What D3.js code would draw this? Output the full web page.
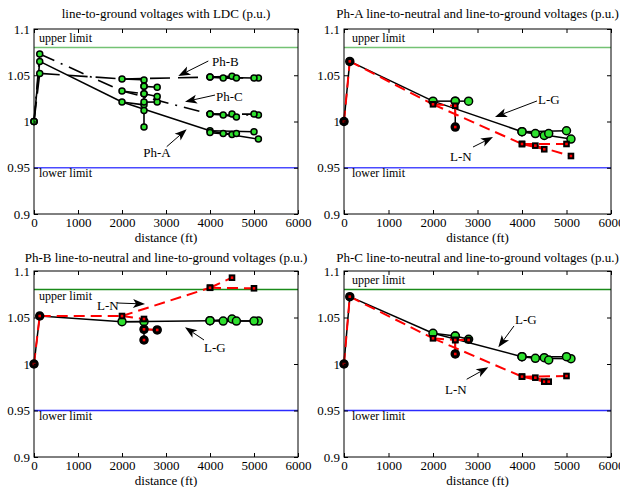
<!DOCTYPE html>
<html>
<head>
<meta charset="utf-8">
<script src="https://cdn.jsdelivr.net/npm/d3@7"></script>
<style>
  body { margin: 0; background: #fff; }
  svg text { font-family: "Liberation Serif", "Times New Roman", "DejaVu Serif", serif; }
</style>
</head>
<body>
<div class="chart"></div>
<script>
// feeder nodes (tree) and their distance from the source
const nodeNames = ["650", "RG60", "632", "633", "634", "645", "646", "671", "692", "675", "684", "611", "652", "680"];
const nodeDist  = [0, 130, 2000, 2500, 2500, 2500, 2800, 4000, 4000, 4500, 4300, 4600, 5100, 5000];
const edges = [["650", "RG60"], ["RG60", "632"], ["632", "633"], ["633", "634"], ["633", "645"], ["645", "646"],
               ["632", "671"], ["671", "692"], ["692", "675"], ["671", "684"], ["684", "611"], ["684", "652"], ["671", "680"]];

const xTicks = [0, 1000, 2000, 3000, 4000, 5000, 6000];
const yTicks = [0.9, 0.95, 1, 1.05, 1.1];
const upperLimit = 1.08, lowerLimit = 0.95;

const titles = [
  "line-to-ground voltages with LDC (p.u.)",
  "Ph-A line-to-neutral and line-to-ground voltages (p.u.)",
  "Ph-B line-to-neutral and line-to-ground voltages (p.u.)",
  "Ph-C line-to-neutral and line-to-ground voltages (p.u.)"
];

// panel 1: line-to-ground with LDC
const ldcA = [1.000, 1.065, 1.021, 1.018, 0.994, 1.021, 1.021, 0.990, 0.988, 0.986, 0.987, 0.987, 0.981, 0.989];
const ldcB = [1.000, 1.052, 1.046, 1.045, 1.038, 1.038, 1.037, 1.048, 1.048, 1.049, 1.047, 1.047, 1.047, 1.047];
const ldcC = [1.000, 1.073, 1.033, 1.030, 1.012, 1.030, 1.027, 1.008, 1.008, 1.008, 1.007, 1.005, 1.007, 1.008];

// panels 2-4: line-to-ground (L-G) and line-to-neutral (L-N)
const aLG = [1.000, 1.065, 1.022, 1.022, 0.994, 1.022, 1.022, 0.989, 0.989, 0.985, 0.987, 0.987, 0.981, 0.990];
const aLN = [1.000, 1.065, 1.0186, 1.017, 0.994, null, null, 0.9757, 0.9757, 0.970, 0.9739, null, 0.9627, 0.9757];
const bLG = [1.000, 1.0516, 1.0455, 1.0455, 1.0258, 1.0373, 1.0366, 1.0466, 1.0466, 1.0484, 1.0462, 1.0462, 1.0462, 1.0462];
const bLN = [1.000, 1.0516, 1.0516, 1.0484, 1.0258, 1.0373, 1.0366, 1.082, 1.082, 1.0928, null, null, null, 1.0814];
const cLG = [1.000, 1.0724, 1.033, 1.0301, 1.0108, 1.0301, 1.0266, 1.0079, 1.0079, 1.0068, 1.0061, 1.0043, 1.0057, 1.0079];
const cLN = [1.000, 1.0724, 1.0276, 1.0258, 1.0108, 1.0258, 1.0258, 0.9864, 0.9864, 0.981, 0.9853, 0.981, null, 0.9871];

// annotations: label, text x, text y, arrow from x, y, arrow to x, y (data units)
const notes1 = [["Ph-B", 4045, 1.0605, 3962, 1.0654, 3280, 1.0492],
                ["Ph-C", 4136, 1.0227, 4114, 1.0286, 3432, 1.0214],
                ["Ph-A", 2484, 0.9611, 3016, 0.9728, 3470, 0.9916]];
const notes2 = [["L-G", 4360, 1.0184, 4337, 1.0222, 3393, 1.0049],
                ["L-N", 2382, 0.9578, 2899, 0.9724, 3348, 0.9832]];
const notes3 = [["L-N", 1432, 1.0581, 1886, 1.0656, 2523, 1.0645],
                ["L-G", 3864, 1.0129, 3864, 1.0258, 3432, 1.0395]];
const notes4 = [["L-G", 3843, 1.043, 3820, 1.0409, 3468, 1.018],
                ["L-N", 2270, 0.9678, 2757, 0.9836, 3243, 0.9965]];

const svg = d3.select(".chart").append("svg")
    .attr("width", 620)
    .attr("height", 487);

const panels = [
  {x: 34,  y: 29,  w: 264, h: 185, titleY: -11, labX: 5, upDy: -5.5, upColor: "#74c274", lowColor: "#4a4aff"},
  {x: 344, y: 29,  w: 267, h: 185, titleY: -11, labX: 8, upDy: -5.5, upColor: "#74c274", lowColor: "#4a4aff"},
  {x: 34,  y: 271, w: 264, h: 186, titleY: -9,  labX: 5, upDy: 10,   upColor: "#1a8a1a", lowColor: "#2b2bff"},
  {x: 344, y: 271, w: 267, h: 186, titleY: -9,  labX: 8, upDy: -5.5, upColor: "#1a8a1a", lowColor: "#2b2bff"}
];

const green = "#2ee02e";
const idx = name => nodeNames.indexOf(name);

function setup(p, i) {
  const g = svg.append("g").attr("transform", `translate(${p.x},${p.y})`);
  const x = d3.scaleLinear().domain([0, 6000]).range([0, p.w]);
  const y = d3.scaleLinear().domain([0.9, 1.1]).range([p.h, 0]);

  g.append("text")
      .attr("x", p.w / 2)
      .attr("y", p.titleY)
      .attr("text-anchor", "middle")
      .attr("font-size", 13)
      .text(titles[i]);

  g.append("text")
      .attr("x", p.w / 2)
      .attr("y", p.h + 28)
      .attr("text-anchor", "middle")
      .attr("font-size", 13)
      .text("distance (ft)");

  [[upperLimit, p.upColor, "upper limit", p.upDy], [lowerLimit, p.lowColor, "lower limit", 9.5]].forEach(l => {
    g.append("line")
        .attr("x1", 0).attr("x2", p.w)
        .attr("y1", y(l[0])).attr("y2", y(l[0]))
        .attr("stroke", l[1])
        .attr("stroke-width", 1.5);
    g.append("text")
        .attr("x", p.labX)
        .attr("y", y(l[0]) + l[3])
        .attr("font-size", 12)
        .text(l[2]);
  });

  return {g, x, y, p};
}

function axes(c) {
  const {g, x, y, p} = c;
  const style = a => a.call(s => s.select(".domain").remove())
      .attr("font-family", null)
      .attr("font-size", 13);

  g.append("g").attr("transform", `translate(0,${p.h})`)
      .call(d3.axisBottom(x).tickValues(xTicks).tickSize(-4).tickPadding(4).tickFormat(d3.format("d")))
      .call(style);
  g.append("g")
      .call(d3.axisTop(x).tickValues(xTicks).tickSize(-4).tickFormat(""))
      .call(style);
  g.append("g")
      .call(d3.axisLeft(y).tickValues(yTicks).tickSize(-4).tickPadding(4).tickFormat(d => String(d)))
      .call(style);
  g.append("g").attr("transform", `translate(${p.w},0)`)
      .call(d3.axisRight(y).tickValues(yTicks).tickSize(-4).tickFormat(""))
      .call(style);

  g.append("rect")
      .attr("width", p.w)
      .attr("height", p.h)
      .attr("fill", "none")
      .attr("stroke", "#000")
      .attr("stroke-width", 1);
}

function segments(vals) {
  return edges
    .map(e => [idx(e[0]), idx(e[1])])
    .filter(e => vals[e[0]] != null && vals[e[1]] != null)
    .map(e => [[nodeDist[e[0]], vals[e[0]]], [nodeDist[e[1]], vals[e[1]]]]);
}

function points(vals) {
  return vals.map((v, k) => ({d: nodeDist[k], v: v, k: k})).filter(o => o.v != null);
}

function drawLines(c, vals, color, width, dash) {
  const line = d3.line().x(d => c.x(d[0])).y(d => c.y(d[1]));
  c.g.append("g").selectAll("path")
    .data(segments(vals))
    .join("path")
      .attr("d", line)
      .attr("fill", "none")
      .attr("stroke", color)
      .attr("stroke-width", width)
      .attr("stroke-dasharray", dash)
      .attr("stroke-linecap", "butt");
}

function drawNotes(c, notes) {
  notes.forEach(n => {
    const x1 = c.x(n[3]), y1 = c.y(n[4]), x2 = c.x(n[5]), y2 = c.y(n[6]);
    const a = Math.atan2(y2 - y1, x2 - x1);
    const L = 12, W = 4.5;
    const cs = Math.cos(a), sn = Math.sin(a);
    const bx = x2 - L * cs, by = y2 - L * sn;
    const nx = x2 - 0.75 * L * cs, ny = y2 - 0.75 * L * sn;
    c.g.append("line")
        .attr("x1", x1).attr("y1", y1).attr("x2", nx).attr("y2", ny)
        .attr("stroke", "#000").attr("stroke-width", 1);
    c.g.append("path")
        .attr("d", `M${x2},${y2}L${bx + W * sn},${by - W * cs}L${nx},${ny}L${bx - W * sn},${by + W * cs}Z`)
        .attr("fill", "#000");
    c.g.append("text")
        .attr("x", c.x(n[1]))
        .attr("y", c.y(n[2]))
        .attr("font-size", 13)
        .text(n[0]);
  });
}

// ---- panel 1 ----
const c1 = setup(panels[0], 0);
drawLines(c1, ldcA, "#000", 1.6, null);
drawLines(c1, ldcB, "#000", 1.6, "20,8");
drawLines(c1, ldcC, "#000", 1.6, "16,7,2,7");
[ldcA, ldcB, ldcC].forEach(vals => {
  c1.g.append("g").selectAll("circle")
    .data(points(vals))
    .join("circle")
      .attr("cx", d => c1.x(d.d))
      .attr("cy", d => c1.y(d.v))
      .attr("r", 3)
      .attr("fill", green)
      .attr("stroke", "#000")
      .attr("stroke-width", 1.5);
});
drawNotes(c1, notes1);
axes(c1);

// ---- panels 2-4 ----
[[aLG, aLN, notes2], [bLG, bLN, notes3], [cLG, cLN, notes4]].forEach((s, j) => {
  const c = setup(panels[j + 1], j + 1);
  const lg = s[0], ln = s[1];
  drawLines(c, lg, "#000", 1.5, null);
  drawLines(c, ln, "#ff0000", 2, "11,6");

  c.g.append("g").selectAll("circle")
    .data(points(lg))
    .join("circle")
      .attr("cx", d => c.x(d.d))
      .attr("cy", d => c.y(d.v))
      .attr("r", 4)
      .attr("fill", d => ln[d.k] === d.v ? "#111" : green)
      .attr("stroke", "#000")
      .attr("stroke-width", 1.5);

  c.g.append("g").selectAll("rect")
    .data(points(ln))
    .join("rect")
      .attr("x", d => c.x(d.d) - 2.3)
      .attr("y", d => c.y(d.v) - 2.3)
      .attr("width", 4.6)
      .attr("height", 4.6)
      .attr("fill", "#ff0000")
      .attr("stroke", "#000")
      .attr("stroke-width", 2);

  drawNotes(c, s[2]);
  axes(c);
});
</script>
</body>
</html>
